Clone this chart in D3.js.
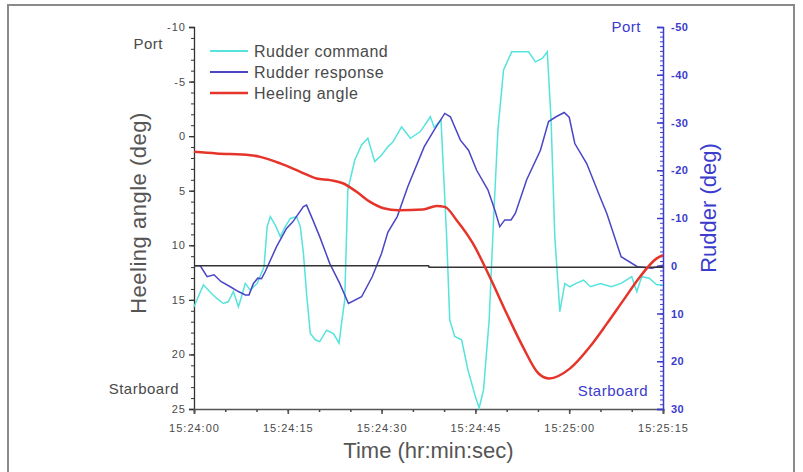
<!DOCTYPE html>
<html>
<head>
<meta charset="utf-8">
<script src="https://cdn.jsdelivr.net/npm/d3@7"></script>
<style>
  body { margin: 0; background: #fff; }
  svg { display: block; font-family: Arial, "Liberation Sans", sans-serif; }
</style>
</head>
<body>
<script>
// time axis, in seconds after 15:24:00
const timeTicks = [0, 15, 30, 45, 60, 75];
const timeLabels = ["15:24:00", "15:24:15", "15:24:30", "15:24:45", "15:25:00", "15:25:15"];
const heelTicks = [-10, -5, 0, 5, 10, 15, 20, 25];
const rudderTicks = [-50, -40, -30, -20, -10, 0, 10, 20, 30];

const seriesNames = ["Rudder command", "Rudder response", "Heeling angle"];
const seriesColors = ["#55e3dc", "#4b45c6", "#e5352b"];

// rudder command (deg, right axis)
const cmdTime = [0, 1.5, 2.8, 3.6, 4.7, 5.5, 6.3, 7.1, 7.6, 8.2, 9, 10.1, 11.2, 11.7, 12.2, 13, 13.8, 14.6,
  15.4, 16.4, 17, 17.5, 18, 18.6, 19.4, 20.1, 21.2, 22.3, 23.2, 23.6, 24.1, 24.6, 25.7, 26.8, 27.8, 28.9,
  30, 31, 31.8, 33.2, 34.6, 36.2, 37.8, 38.4, 39.5, 40.4, 40.9, 41.7, 42.8, 43.8, 45, 45.6, 46.3, 47.2,
  47.9, 48.6, 49.5, 50.8, 52.4, 53.5, 54.6, 55.7, 56.5, 57.1, 57.7, 58.5, 59.3, 60.1, 61.1, 62.3, 63.4,
  65, 66.7, 68.3, 70, 70.8, 71.6, 72.8, 74, 75];
const cmdValue = [8.6, 4.0, 5.8, 6.8, 7.9, 7.5, 5.4, 8.6, 6.5, 3.7, 5.1, 3.7, 0.2, -8.2, -10.3, -8.5, -6.1, -8.2,
  -9.9, -10.3, -8.2, -2.6, 5.8, 14.2, 15.5, 15.9, 13.5, 14.2, 16.2, 12, 7.2, -15.9, -22.1, -25.3, -26.7, -21.8,
  -23.2, -24.9, -25.9, -29.1, -26.7, -28.1, -31.2, -29, -30.5, -6.1, 11.4, 14.8, 15.5, 21.8, 27.4, 29.8, 26, 11.4,
  -9.6, -28.4, -41, -44.8, -44.8, -44.8, -42.7, -43.4, -44.8, -30.5, -6.1, 9.6, 3.7, 4.4, 3.7, 3.0, 4.4,
  3.7, 4.4, 3.7, 2.3, 5.4, 2.3, 2.6, 4.0, 4.0];

// rudder response (deg, right axis)
const respTime = [0, 1, 2.1, 3.2, 4.3, 5.8, 7.1, 8.2, 8.8, 9.5, 10.2, 10.8, 11.4, 13.2, 14.8, 15.8, 17.5, 18,
  19, 20.1, 21.7, 23.3, 24.7, 26.8, 28.5, 30, 31, 32.5, 34.2, 36.8, 38.4, 40.1, 41, 42.6, 43.9, 45.2, 47,
  48.1, 48.9, 49.7, 50.7, 51.4, 53.2, 55.4, 56.7, 57.9, 59.2, 60, 60.9, 62.8, 64.9, 66, 68.3, 70.9, 73.2, 75];
const respValue = [0, 0, 2.3, 1.9, 3.3, 4.4, 5.4, 6.1, 6.1, 3.7, 2.6, 2.7, 1.2, -4.0, -7.8, -9.2, -12.4, -12.7,
  -9.6, -6.1, -0.5, 3.7, 7.9, 6.5, 2.3, -2.6, -7, -10.3, -16.6, -24.9, -28.4, -31.9, -31.2, -26.3, -24.2, -20, -15.9,
  -11.7, -8.2, -9.6, -9.6, -11, -18, -24.2, -30.2, -31.2, -32.1, -31.1, -25.6, -21.4, -14.5, -11, -1.9, 0.2, 0.5, -0.1];

// heeling angle (deg, left axis)
const heelTime = [0, 3.6, 9, 10.6, 13.8, 17, 19.6, 21.8, 23.9, 26, 28.1, 30.3, 32.7, 36.6, 38.8, 40.1, 42,
  44.6, 47.3, 50, 52.6, 55.1, 56.8, 60.1, 63.3, 66, 68.7, 71.3, 74, 75];
const heelValue = [1.44, 1.59, 1.74, 1.9, 2.5, 3.27, 3.88, 4.03, 4.34, 5.1, 6.0, 6.6, 6.78, 6.72, 6.41, 6.48, 7.7,
  9.83, 12.9, 16.25, 19.3, 21.75, 22.2, 21.3, 19.3, 17.2, 15.0, 12.9, 11.2, 10.9];

// zero reference line (deg, right axis)
const zeroTime = [0, 37.5, 37.6, 75];
const zeroValue = [0, 0, 0.3, 0.3];

const width = 803;
const height = 472;
const margin = { top: 27, right: 140, bottom: 63, left: 194 };

const svg = d3.select("body").append("svg")
  .attr("width", width)
  .attr("height", height);

// outer frame
svg.append("rect")
  .attr("x", 8).attr("y", 5)
  .attr("width", 786).attr("height", 480)
  .attr("fill", "none")
  .attr("stroke", "#8a8a8a")
  .attr("stroke-width", 2);

const x = d3.scaleLinear()
  .domain([0, 75])
  .range([margin.left, width - margin.right]);

const yHeel = d3.scaleLinear()
  .domain([-10, 25])
  .range([margin.top, height - margin.bottom]);

const yRudder = d3.scaleLinear()
  .domain([-50, 30])
  .range([margin.top, height - margin.bottom]);

const grey = "#4a4a4a";
const blue = "#3b3bcc";
const plain = d => String(d);   // hyphen minus, as in the original

// left axis
svg.append("g")
  .attr("transform", `translate(${margin.left},0)`)
  .call(d3.axisLeft(yHeel).tickValues(d3.range(-10, 26, 1)).tickSize(3).tickFormat(""))
  .call(g => g.select(".domain").remove())
  .selectAll("line").attr("stroke", "#333");

const leftAxis = svg.append("g")
  .attr("transform", `translate(${margin.left},0)`)
  .call(d3.axisLeft(yHeel).tickValues(heelTicks).tickFormat(plain).tickSize(5).tickPadding(3));
leftAxis.selectAll("path, line").attr("stroke", "#333").attr("stroke-width", 1.3);
leftAxis.selectAll("text")
  .attr("fill", grey).attr("font-size", 11).attr("letter-spacing", 1);

// bottom axis
svg.append("g")
  .attr("transform", `translate(0,${height - margin.bottom})`)
  .call(d3.axisBottom(x).tickValues(d3.range(0, 76, 5)).tickSize(3).tickFormat(""))
  .call(g => g.select(".domain").remove())
  .selectAll("line").attr("stroke", "#444").attr("stroke-width", 1.5);

const bottomAxis = svg.append("g")
  .attr("transform", `translate(0,${height - margin.bottom})`)
  .call(d3.axisBottom(x).tickValues(timeTicks).tickFormat((d, i) => timeLabels[i]).tickSize(5).tickPadding(10));
bottomAxis.selectAll("path, line").attr("stroke", "#555").attr("stroke-width", 1.6);
bottomAxis.selectAll("text")
  .attr("fill", grey).attr("font-size", 11).attr("letter-spacing", 1);

// right axis
svg.append("g")
  .attr("transform", `translate(${width - margin.right},0)`)
  .call(d3.axisRight(yRudder).tickValues(d3.range(-50, 31, 1)).tickSize(-3).tickFormat(""))
  .call(g => g.select(".domain").remove())
  .selectAll("line").attr("stroke", blue);

const rightAxis = svg.append("g")
  .attr("transform", `translate(${width - margin.right},0)`)
  .call(d3.axisRight(yRudder).tickValues(rudderTicks).tickFormat(plain).tickSize(-6).tickPadding(8));
rightAxis.selectAll("path, line").attr("stroke", blue).attr("stroke-width", 1.5);
rightAxis.selectAll("text")
  .attr("fill", blue).attr("font-size", 11).attr("font-weight", "bold").attr("letter-spacing", 0.5);

// lines
const line = (times, values, yScale) => d3.line()
  .x((d, i) => x(times[i]))
  .y(d => yScale(d))(values);

svg.append("path")
  .attr("d", line(cmdTime, cmdValue, yRudder))
  .attr("fill", "none")
  .attr("stroke", seriesColors[0])
  .attr("stroke-width", 1.5);

svg.append("path")
  .attr("d", line(respTime, respValue, yRudder))
  .attr("fill", "none")
  .attr("stroke", seriesColors[1])
  .attr("stroke-width", 1.5);

svg.append("path")
  .attr("d", line(zeroTime, zeroValue, yRudder))
  .attr("fill", "none")
  .attr("stroke", "#333")
  .attr("stroke-width", 1.6);

svg.append("path")
  .attr("d", d3.line().curve(d3.curveMonotoneX)
    .x((d, i) => x(heelTime[i]))
    .y(d => yHeel(d))(heelValue))
  .attr("fill", "none")
  .attr("stroke", seriesColors[2])
  .attr("stroke-width", 2.5);

// legend
const legend = svg.append("g").attr("transform", "translate(210,51)");
seriesNames.forEach((name, i) => {
  const row = legend.append("g").attr("transform", `translate(0,${i * 21})`);
  row.append("line")
    .attr("x1", 0).attr("x2", 38)
    .attr("stroke", seriesColors[i])
    .attr("stroke-width", i === 2 ? 2.5 : 2);
  row.append("text")
    .attr("x", 44).attr("y", 6)
    .attr("fill", grey)
    .attr("font-size", 16)
    .attr("letter-spacing", 0.5)
    .text(name);
});

// side labels
svg.append("text").attr("x", 163).attr("y", 49).attr("text-anchor", "end")
  .attr("fill", grey).attr("font-size", 15).attr("letter-spacing", 0.5).text("Port");
svg.append("text").attr("x", 179).attr("y", 394).attr("text-anchor", "end")
  .attr("fill", grey).attr("font-size", 15).attr("letter-spacing", 0.5).text("Starboard");
svg.append("text").attr("x", 641).attr("y", 32).attr("text-anchor", "end")
  .attr("fill", blue).attr("font-size", 15).attr("letter-spacing", 0.5).text("Port");
svg.append("text").attr("x", 648).attr("y", 396).attr("text-anchor", "end")
  .attr("fill", blue).attr("font-size", 15).attr("letter-spacing", 0.5).text("Starboard");

// axis titles
svg.append("text")
  .attr("transform", "translate(146,213) rotate(-90)")
  .attr("text-anchor", "middle")
  .attr("fill", "#555")
  .attr("font-size", 22)
  .attr("letter-spacing", 0.5)
  .text("Heeling angle (deg)");

svg.append("text")
  .attr("transform", "translate(716,208) rotate(-90)")
  .attr("text-anchor", "middle")
  .attr("fill", blue)
  .attr("font-size", 22)
  .text("Rudder (deg)");

svg.append("text")
  .attr("x", (margin.left + width - margin.right) / 2)
  .attr("y", 458)
  .attr("text-anchor", "middle")
  .attr("fill", "#555")
  .attr("font-size", 22)
  .text("Time (hr:min:sec)");
</script>
</body>
</html>
